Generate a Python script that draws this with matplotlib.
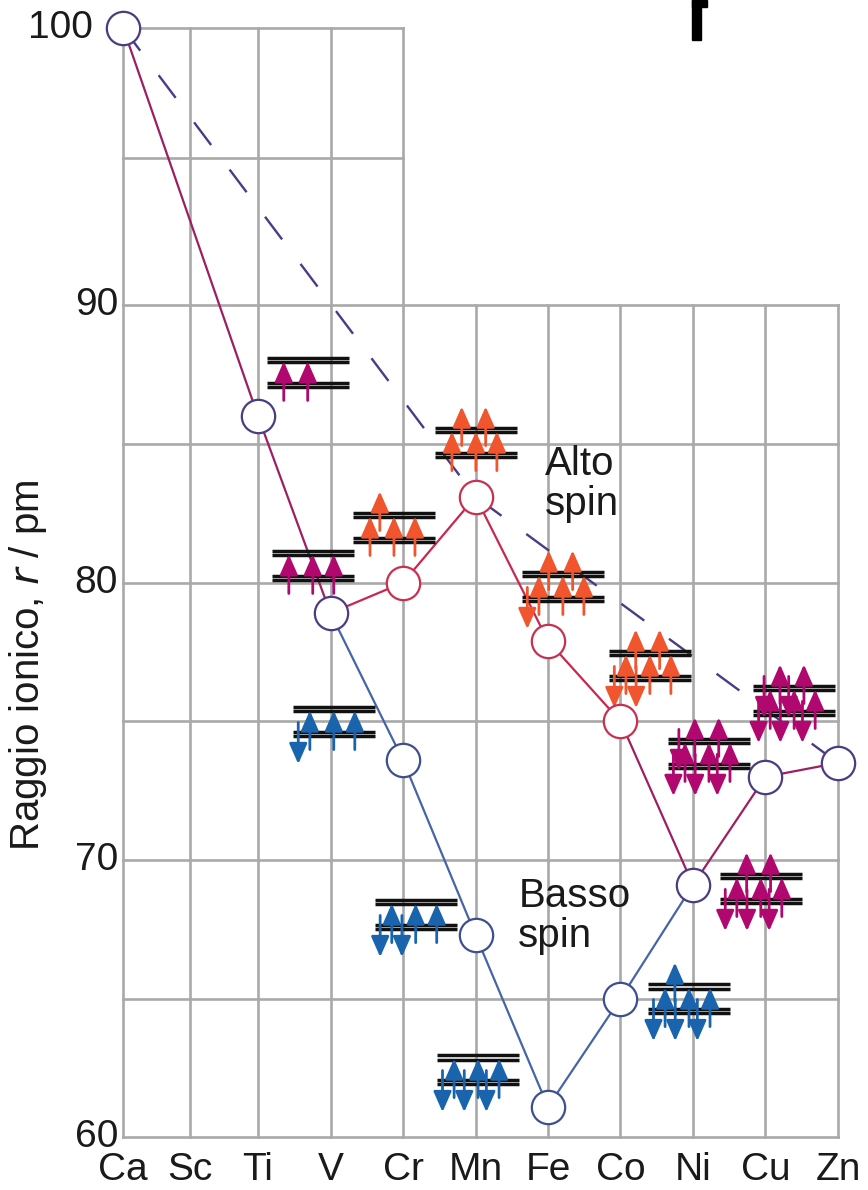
import numpy as np
import matplotlib.pyplot as plt
from matplotlib.patches import Rectangle

plt.rcParams['font.family'] = ['Liberation Sans', 'DejaVu Sans']

# --- data ---------------------------------------------------------------
elements = ['Ca', 'Sc', 'Ti', 'V', 'Cr', 'Mn', 'Fe', 'Co', 'Ni', 'Cu', 'Zn']
# column positions (the drawing squeezes Ca-Sc-Ti a little)
elem_x = [0.14, 1.06, 2, 3, 4, 5, 6, 7, 8, 9, 10]

# ionic radius of M2+, pm
r_high = [100, np.nan, 86.0, 78.9, 80.0, 83.1, 77.9, 75.0, 69.1, 73.0, 73.5]
r_low = [np.nan, np.nan, np.nan, 78.9, 73.6, 67.3, 61.1, 65.0, 69.1, np.nan, np.nan]
# spherical ions (d0, d5 high spin, d10) joined by the dashed line
r_sph = [100, np.nan, np.nan, np.nan, np.nan, 83.1, np.nan, np.nan, np.nan, np.nan, 73.5]

y_ticks = [100, 90, 80, 70, 60]

# d-orbital diagrams: t2g (lower level) and eg (upper level) occupation
diag_ion = ['Ti', 'V', 'Cr', 'Cr', 'Mn', 'Mn', 'Fe', 'Fe', 'Co', 'Co', 'Ni', 'Cu', 'Zn']
diag_spin = ['-', '-', 'LS', 'HS', 'HS', 'LS', 'LS', 'HS', 'HS', 'LS', '-', '-', '-']
t2g_up = [2, 3, 3, 3, 3, 3, 3, 3, 3, 3, 3, 3, 3]
t2g_down = [0, 0, 1, 0, 0, 2, 3, 1, 2, 3, 3, 3, 3]
eg_up = [0, 0, 0, 1, 2, 0, 0, 2, 2, 1, 2, 2, 2]
eg_down = [0, 0, 0, 0, 0, 0, 0, 0, 0, 0, 0, 1, 2]
# where each diagram sits (left end of levels, height of t2g level)
diag_x = [2.12, 2.19, 2.48, 3.31, 4.44, 3.61, 4.47, 5.64, 6.84, 7.38, 8.37, 7.655, 8.83]
diag_y = [87.13, 80.17, 74.54, 81.54, 84.60, 67.58, 61.99, 79.41, 76.56, 64.55, 68.52, 73.39, 75.30]

# --- styles ---------------------------------------------------------------
grid_c = '#a9a9a9'
mag_line = '#9c1f62'
hs_line = '#c8284f'
ls_line = '#4565a6'
dash_c = '#4b3a86'
edge_purple = '#4a3b82'
edge_red = '#c8304f'
edge_blue = '#3d4e92'
arrow_c = {'-': '#b0086e', 'HS': '#f0552d', 'LS': '#1a64ae'}

lev_w = 1.13      # level width (x units)
lev_gap = 0.9     # eg above t2g (y units)
t2g_up_off = [0.235, 0.565, 0.855]
t2g_dn_off = [0.075, 0.375, 0.68]
eg_up_off = [0.37, 0.70]
eg_dn_off = [0.15, 0.49]

fig = plt.figure(figsize=(8.68, 11.9), dpi=100)
ax = fig.add_axes([0, 0, 1, 1])
ax.set_xlim(-1.559, 10.414)
ax.set_ylim(58.10, 101.01)
ax.axis('off')

# stepped grid
for i, x in enumerate(elem_x):
    top = 100 if i <= 4 else 90
    ax.plot([x, x], [60, top], color=grid_c, lw=1.9, zorder=1, solid_capstyle='projecting')
for v in [100, 95.3]:
    ax.plot([elem_x[0], elem_x[4]], [v, v], color=grid_c, lw=1.9, zorder=1, solid_capstyle='projecting')
for v in range(60, 91, 5):
    ax.plot([elem_x[0], elem_x[-1]], [v, v], color=grid_c, lw=1.9, zorder=1, solid_capstyle='projecting')

# dashed reference line
sph = [i for i in range(11) if not np.isnan(r_sph[i])]
ax.plot([elem_x[i] for i in sph], [r_sph[i] for i in sph], color=dash_c, lw=1.7,
        dashes=(12, 13), zorder=3)

# high spin / main branch
hs = [i for i in range(11) if not np.isnan(r_high[i])]
for a, b in zip(hs[:-1], hs[1:]):
    c = hs_line if 3 <= a < 7 else mag_line
    ax.plot([elem_x[a], elem_x[b]], [r_high[a], r_high[b]], color=c, lw=1.6, zorder=3)

# low spin branch
ls = [i for i in range(11) if not np.isnan(r_low[i])]
ax.plot([elem_x[i] for i in ls], [r_low[i] for i in ls], color=ls_line, lw=1.6, zorder=3)

# circles
for i in hs:
    ec = edge_red if 4 <= i <= 7 else edge_purple
    ax.plot(elem_x[i], r_high[i], 'o', ms=24, mfc='white', mec=ec, mew=1.6, zorder=7)
for i in ls:
    if 4 <= i <= 7:
        ax.plot(elem_x[i], r_low[i], 'o', ms=24, mfc='white', mec=edge_blue, mew=1.6, zorder=7)


def spin_arrow(x, y_from, y_to, color):
    ax.annotate('', xy=(x, y_to), xytext=(x, y_from),
                arrowprops=dict(arrowstyle='-|>,head_length=1.25,head_width=0.55',
                                mutation_scale=10, color=color, lw=2.0,
                                shrinkA=0, shrinkB=0), zorder=6)


# orbital diagrams
for k in range(len(diag_ion)):
    x0, y0 = diag_x[k], diag_y[k]
    col = arrow_c[diag_spin[k]]
    for yl in [y0, y0 + lev_gap]:
        for d in [-0.085, 0.085]:
            ax.plot([x0, x0 + lev_w], [yl + d, yl + d], color='#111111', lw=2.5,
                    solid_capstyle='butt', zorder=5)
    for yl, n_up, n_dn, up_off, dn_off in [(y0, t2g_up[k], t2g_down[k], t2g_up_off, t2g_dn_off),
                                           (y0 + lev_gap, eg_up[k], eg_down[k], eg_up_off, eg_dn_off)]:
        for j in range(n_up):
            spin_arrow(x0 + up_off[j], yl - 0.56, yl + 0.85, col)
        for j in range(n_dn):
            spin_arrow(x0 + dn_off[j], yl + 0.42, yl - 1.08, col)

# tick labels
for x, lab in zip(elem_x, elements):
    ax.text(x, 58.82, lab, ha='center', va='center', fontsize=28, color='#1a1a1a')
for v in y_ticks:
    xr = -0.28 if v == 100 else 0.07
    ax.text(xr, v, str(v), ha='right', va='center', fontsize=28, color='#1a1a1a')

ax.text(-1.172, 77.03, 'Raggio ionico, $r$ / pm', rotation=90, ha='center', va='center',
        fontsize=29, color='#1a1a1a')
ax.text(5.96, 84.96, 'Alto\nspin', ha='left', va='top', fontsize=29, linespacing=1.05,
        color='#1a1a1a', zorder=8)
ax.text(5.59, 69.38, 'Basso\nspin', ha='left', va='top', fontsize=29, linespacing=1.05,
        color='#1a1a1a', zorder=8)

# small black mark at the top edge of the scan
fig.patches.append(Rectangle((692 / 868, 1 - 40 / 1190), 9 / 868, 40 / 1190,
                             transform=fig.transFigure, color='black'))
fig.patches.append(Rectangle((692 / 868, 1 - 7 / 1190), 15 / 868, 7 / 1190,
                             transform=fig.transFigure, color='black'))

plt.savefig('out.png', dpi=100)
